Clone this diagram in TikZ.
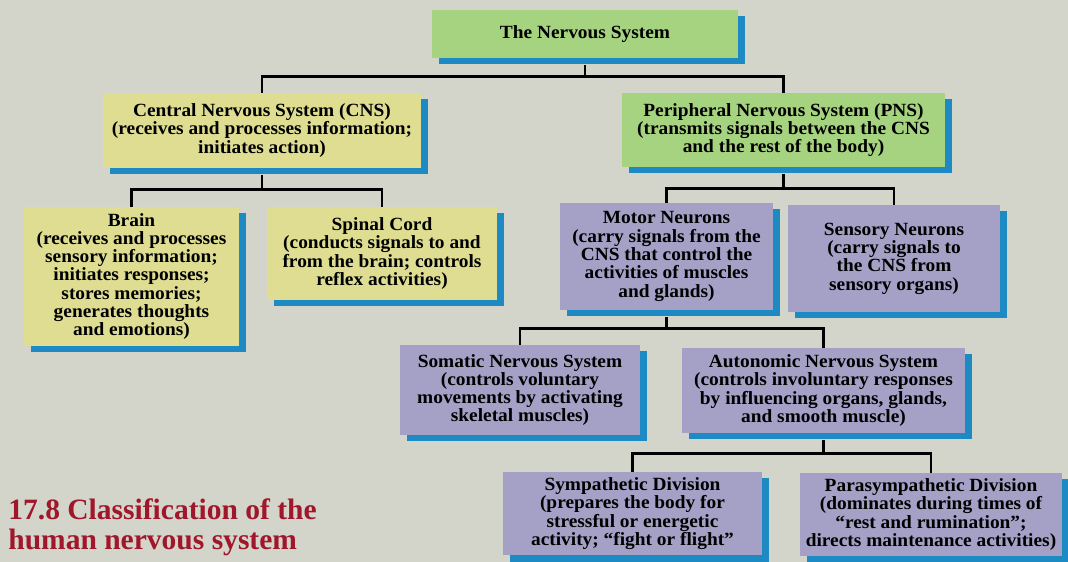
\documentclass[tikz,border=0pt]{standalone}
\usepackage{fontspec}
\setmainfont{Liberation Serif}
\newfontfamily\boxfont{Liberation Serif}[FakeStretch=1.04]
\usetikzlibrary{shadows}
\definecolor{paper}{RGB}{211,213,203}
\definecolor{greenbox}{RGB}{166,211,128}
\definecolor{yellowbox}{RGB}{222,221,146}
\definecolor{violetbox}{RGB}{164,160,198}
\definecolor{shadowblue}{RGB}{30,138,196}
\definecolor{capred}{RGB}{160,22,42}
\begin{document}
\begin{tikzpicture}[box/.style={align=center,inner sep=1pt,font=\boxfont\bfseries\fontsize{10.6}{10.4}\selectfont,
    general shadow={fill=shadowblue,shadow xshift=0.13cm,shadow yshift=-0.13cm}},
  greenb/.style={box,fill=greenbox},
  yellowb/.style={box,fill=yellowbox},
  violetb/.style={box,fill=violetbox},
  link/.style={line width=1.4pt}]
\useasboundingbox (0,0) rectangle (21.36,-11.24);
\fill[paper] (0,0) rectangle (21.36,-11.24);
\node[greenb,minimum width=6.12cm,minimum height=0.96cm] (nervous) at (11.70,-0.68) {The Nervous System};
\node[yellowb,minimum width=6.36cm,minimum height=1.50cm] (cns) at (5.24,-2.61)
  {Central Nervous System (CNS)\\(receives and processes information;\\initiates action)};
\node[greenb,minimum width=6.46cm,minimum height=1.48cm] (pns) at (15.67,-2.60)
  {Peripheral Nervous System (PNS)\\(transmits signals between the CNS\\and the rest of the body)};
\node[yellowb,minimum width=4.30cm,minimum height=2.78cm] (brain) at (2.63,-5.53)
  {Brain\\(receives and processes\\sensory information;\\initiates responses;\\stores memories;\\generates thoughts\\and emotions)};
\node[yellowb,minimum width=4.60cm,minimum height=1.86cm] (spinal) at (7.64,-5.07)
  {Spinal Cord\\(conducts signals to and\\from the brain; controls\\reflex activities)};
\node[violetb,minimum width=4.26cm,minimum height=2.14cm] (motor) at (13.33,-5.13)
  {Motor Neurons\\(carry signals from the\\CNS that control the\\activities of muscles\\and glands)};
\node[violetb,minimum width=4.24cm,minimum height=2.14cm] (sensory) at (17.88,-5.17)
  {Sensory Neurons\\(carry signals to\\the CNS from\\sensory organs)};
\node[violetb,minimum width=4.80cm,minimum height=1.80cm] (somatic) at (10.40,-7.80)
  {Somatic Nervous System\\(controls voluntary\\movements by activating\\skeletal muscles)};
\node[violetb,minimum width=5.66cm,minimum height=1.70cm] (autonomic) at (16.47,-7.81)
  {Autonomic Nervous System\\(controls involuntary responses\\by influencing organs, glands,\\and smooth muscle)};
\node[violetb,minimum width=5.18cm,minimum height=1.66cm] (sympa) at (12.65,-10.27)
  {Sympathetic Division\\(prepares the body for\\stressful or energetic\\activity; “fight or flight”};
\node[violetb,minimum width=5.24cm,minimum height=1.66cm] (parasympa) at (18.62,-10.29)
  {Parasympathetic Division\\(dominates during times of\\“rest and rumination”;\\directs maintenance activities)};
\node[anchor=north west,inner sep=0pt,align=left,text=capred,font=\bfseries\fontsize{16.8}{17.4}\selectfont] (caption) at (0.16,-9.96)
  {17.8 Classification of the\\human nervous system};
\draw[link] ([yshift=-0.13cm]nervous.south) -- ++(0,-0.23) coordinate (j1);
\draw[link] (cns.north) |- (j1) -| (pns.north);
\draw[link] ([yshift=-0.13cm]cns.south) -- ++(0,-0.29) coordinate (j2);
\draw[link] (brain.north) |- (j2) -| (spinal.north);
\draw[link] ([yshift=-0.13cm]pns.south) -- ++(0,-0.29) coordinate (j3);
\draw[link] (motor.north) |- (j3) -| (sensory.north);
\draw[link] ([yshift=-0.13cm]motor.south) -- ++(0,-0.23) coordinate (j4);
\draw[link] (somatic.north) |- (j4) -| (autonomic.north);
\draw[link] ([yshift=-0.13cm]autonomic.south) -- ++(0,-0.27) coordinate (j5);
\draw[link] (sympa.north) |- (j5) -| (parasympa.north);
\end{tikzpicture}
\end{document}
